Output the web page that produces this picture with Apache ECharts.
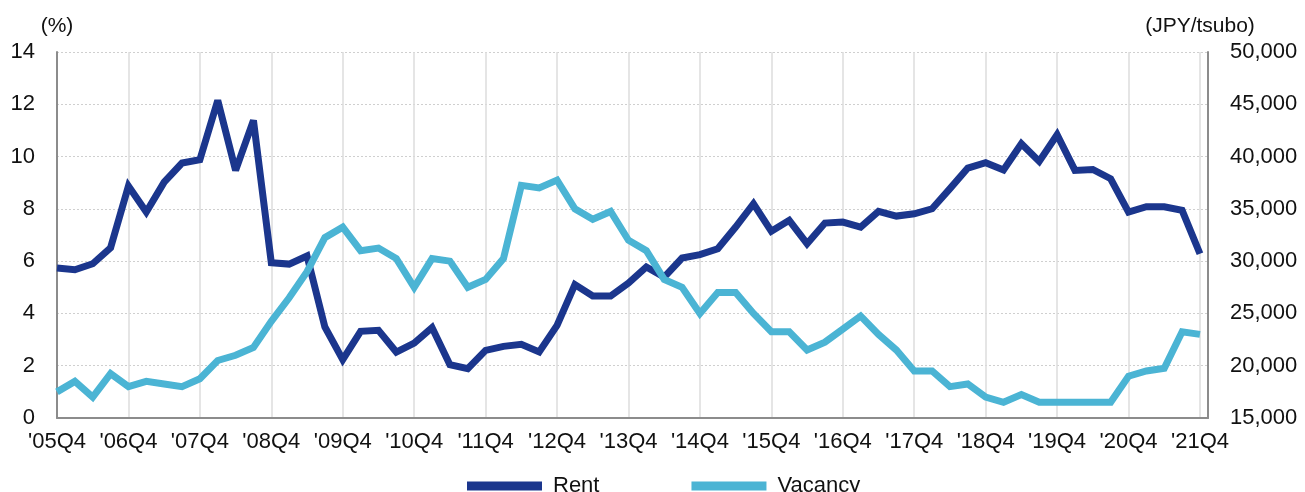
<!DOCTYPE html>
<html>
<head>
<meta charset="utf-8">
<script src="https://cdn.jsdelivr.net/npm/echarts@6/dist/echarts.min.js"></script>
<style>
  html, body { margin: 0; padding: 0; background: #fff; }
  #main { width: 1305px; height: 492px; }
</style>
</head>
<body>
<div id="main"></div>
<script>
// year-end tick labels, one every 4 quarters
var tickLabels = ["'05Q4", "'06Q4", "'07Q4", "'08Q4", "'09Q4", "'10Q4", "'11Q4", "'12Q4", "'13Q4",
  "'14Q4", "'15Q4", "'16Q4", "'17Q4", "'18Q4", "'19Q4", "'20Q4", "'21Q4"];

// quarterly, '05Q4 .. '21Q4 (65 points)
var rent = [29340, 29180, 29750, 31280, 37180, 34690, 37560, 39380, 39700, 45370, 38680,
  43460, 29850, 29720, 30490, 23700, 20580, 23290, 23380, 21310, 22170, 23650,
  20100, 19720, 21470, 21850, 22040, 21310, 23860, 27750, 26660, 26660, 27900,
  29440, 28480, 30300, 30620, 31190, 33260, 35490, 32850, 33900, 31670,
  33640, 33740, 33260, 34760, 34310, 34530, 35010, 36930, 38900, 39410, 38720,
  41230, 39540, 42090, 38680, 38770, 37880, 34690, 35200, 35200, 34850, 30710];

var vacancy = [1.0, 1.4, 0.8, 1.7, 1.2, 1.4, 1.3, 1.2, 1.5, 2.2, 2.4,
  2.7, 3.7, 4.6, 5.6, 6.9, 7.3, 6.4, 6.5, 6.1, 5.0, 6.1,
  6.0, 5.0, 5.3, 6.1, 8.9, 8.8, 9.1, 8.0, 7.6, 7.9, 6.8,
  6.4, 5.3, 5.0, 4.0, 4.8, 4.8, 4.0, 3.3, 3.3, 2.6,
  2.9, 3.4, 3.9, 3.2, 2.6, 1.8, 1.8, 1.2, 1.3, 0.8, 0.6,
  0.9, 0.6, 0.6, 0.6, 0.6, 0.6, 1.6, 1.8, 1.9, 3.3, 3.2];

var chart = echarts.init(document.getElementById('main'));
var font = 'Liberation Sans, Arial, sans-serif';

function pairs(arr) {
  return arr.map(function (v, i) { return [i, v]; });
}

var option = {
  animation: false,
  textStyle: { fontFamily: font },
  legend: {
    data: ['Rent', 'Vacancy'],
    left: 462,
    top: 470,
    icon: 'rect',
    itemWidth: 75,
    itemHeight: 9,
    itemGap: 92,
    textStyle: { fontSize: 22, color: '#111', fontFamily: font, padding: [0, 0, 0, 6] }
  },
  grid: { left: 57, right: 97, top: 52, bottom: 74 },
  xAxis: {
    type: 'value',
    min: 0,
    max: 64.45,
    interval: 4,
    axisLine: { show: true, lineStyle: { color: '#8c8c8c', width: 2 } },
    axisTick: { show: false },
    axisLabel: {
      fontSize: 22,
      color: '#111',
      margin: 13,
      showMaxLabel: false,
      formatter: function (v) { return v % 4 === 0 ? tickLabels[v / 4] : ''; }
    },
    splitLine: { show: true, lineStyle: { color: '#dcdcdc', width: 1.5 } }
  },
  yAxis: [
    {
      type: 'value',
      min: 0,
      max: 14,
      interval: 2,
      name: '(%)',
      nameLocation: 'end',
      nameGap: 15,
      nameTextStyle: { fontSize: 21, color: '#111', align: 'center' },
      axisLine: { show: true, lineStyle: { color: '#8c8c8c', width: 2 } },
      axisTick: { show: false },
      axisLabel: { fontSize: 22, color: '#111', margin: 22 },
      splitLine: { show: true, lineStyle: { color: '#cfcfcf', width: 1, type: [2, 2] } }
    },
    {
      type: 'value',
      position: 'right',
      min: 15000,
      max: 50000,
      interval: 5000,
      name: '(JPY/tsubo)',
      nameLocation: 'end',
      nameGap: 15,
      nameTextStyle: { fontSize: 21, color: '#111', align: 'center', padding: [0, 16, 0, 0] },
      axisLine: { show: true, lineStyle: { color: '#8c8c8c', width: 2 } },
      axisTick: { show: false },
      axisLabel: {
        fontSize: 22,
        color: '#111',
        margin: 22,
        formatter: function (v) { return v.toLocaleString('en-US'); }
      },
      splitLine: { show: false }
    }
  ],
  series: [
    {
      name: 'Rent',
      type: 'line',
      yAxisIndex: 1,
      data: pairs(rent),
      symbol: 'none',
      itemStyle: { color: '#1b368d' },
      lineStyle: { color: '#1b368d', width: 7, join: 'miter', miterLimit: 3 }
    },
    {
      name: 'Vacancy',
      type: 'line',
      yAxisIndex: 0,
      data: pairs(vacancy),
      symbol: 'none',
      itemStyle: { color: '#4bb4d4' },
      lineStyle: { color: '#4bb4d4', width: 7, join: 'miter', miterLimit: 3 }
    }
  ]
};

option && chart.setOption(option);
</script>
</body>
</html>
